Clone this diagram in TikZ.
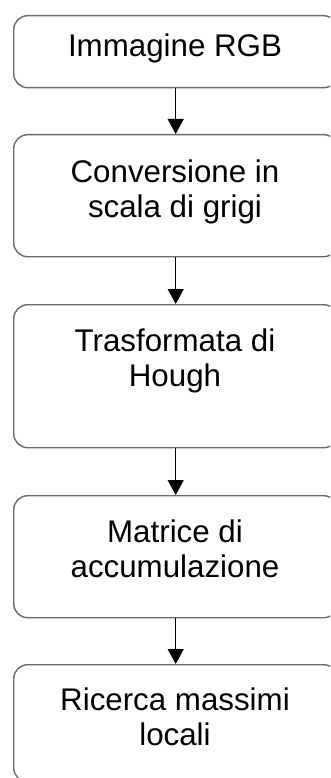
\documentclass[tikz,border=0pt]{standalone}
\usepackage{fontspec}
\setmainfont{Liberation Sans}
\usetikzlibrary{arrows.meta}
\definecolor{boxgray}{RGB}{105,105,105}
\begin{document}
\begin{tikzpicture}[x=1pt,y=-1pt,
  stepbox/.style={draw=boxgray, line width=1.4pt, rounded corners=14pt, inner sep=0pt, minimum width=324pt, anchor=north west},
  lbl/.style={font=\fontsize{31.3}{35}\selectfont, align=center, anchor=base, inner sep=0pt},
  flow/.style={line width=1.2pt, draw=black}]
\useasboundingbox (0,0) rectangle (330,778);
\fill[white] (0,0) rectangle (330,778);
\clip (0,0) rectangle (330,778);
\node[stepbox, minimum height=72pt]  (b1) at (13,15)  {};
\node[stepbox, minimum height=122pt] (b2) at (13,134) {};
\node[stepbox, minimum height=143pt] (b3) at (13,304) {};
\node[stepbox, minimum height=122pt] (b4) at (13,495) {};
\node[stepbox, minimum height=117pt] (b5) at (13,664) {};
\node[lbl] (t1) at (175,57)  {Immagine RGB};
\node[lbl] (t2) at (175,217) {Conversione in\\scala di grigi};
\node[lbl] (t3) at (175,386) {Trasformata di\\Hough};
\node[lbl] (t4) at (175,577) {Matrice di\\accumulazione};
\node[lbl] (t5) at (175,745) {Ricerca massimi\\locali};
\draw[flow, -{Triangle[width=16pt,length=15pt]}] (b1.south) -- (b2.north);
\draw[flow, -{Triangle[width=16pt,length=15pt]}] (b2.south) -- (b3.north);
\draw[flow, -{Triangle[width=16pt,length=15pt]}] (b3.south) -- (b4.north);
\draw[flow, -{Triangle[width=16pt,length=15pt]}] (b4.south) -- (b5.north);
\end{tikzpicture}
\end{document}
